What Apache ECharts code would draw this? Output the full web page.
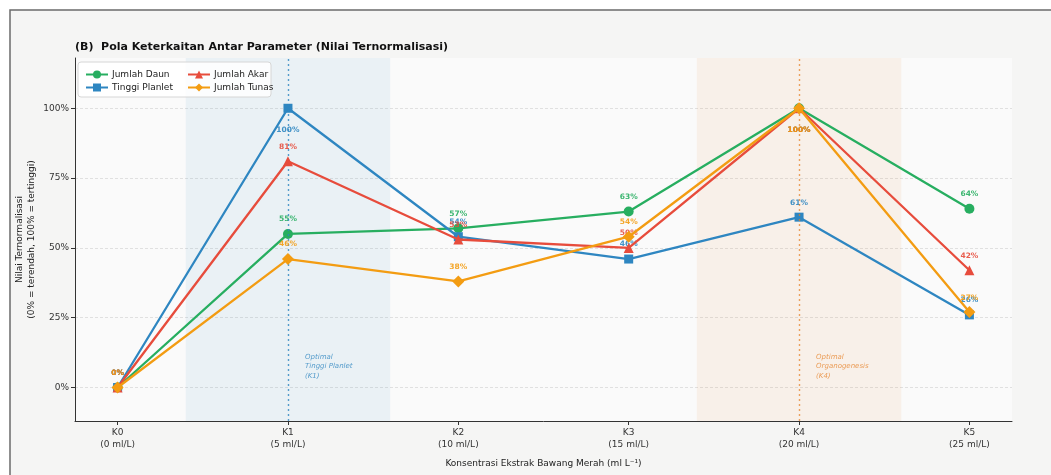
<!DOCTYPE html>
<html>
<head>
<meta charset="utf-8">
<script src="https://cdn.jsdelivr.net/npm/echarts@6/dist/echarts.min.js"></script>
<style>
  html, body { margin: 0; padding: 0; background: #ffffff; }
  #chart { width: 1051px; height: 475px; }
</style>
</head>
<body>
<div id="chart"></div>
<script>
// Treatment levels and their concentrations
const categories = ['K0', 'K1', 'K2', 'K3', 'K4', 'K5'];
const concentrations = ['0 ml/L', '5 ml/L', '10 ml/L', '15 ml/L', '20 ml/L', '25 ml/L'];

// Normalised parameter values (%)
const jumlahDaun    = [0, 55, 57, 63, 100, 64];
const tinggiPlanlet = [0, 100, 54, 46, 61, 26];
const jumlahAkar    = [0, 81, 53, 50, 100, 42];
const jumlahTunas   = [0, 46, 38, 54, 100, 27];

// Axis ticks
const xTicks = [0, 1, 2, 3, 4, 5];
const yTicks = [0, 25, 50, 75, 100];

// Highlighted optimum treatments (index into categories)
const optimumTinggi = 1;
const optimumOrgano = 4;

const FONT = 'DejaVu Sans';
const C_GREEN = '#27ae60';
const C_BLUE = '#2e86c1';
const C_RED = '#e74c3c';
const C_ORANGE = '#f39c12';

// Value labels sit above each point; a 100% peak gets its label underneath.
function lineSeries(name, values, color, symbol, size, z) {
  const above = 10.5 - size / 2;
  const below = 17.5 - size / 2;
  return {
    name: name,
    type: 'line',
    z: z,
    symbol: symbol,
    symbolSize: size,
    showAllSymbol: true,
    lineStyle: { width: 2.3, color: color },
    itemStyle: { color: color },
    emphasis: { disabled: true },
    data: values.map(function (v, i) {
      const peak = v >= 100;
      return {
        value: [i, v],
        label: { position: peak ? 'bottom' : 'top', distance: peak ? below : above }
      };
    }),
    label: {
      show: true,
      formatter: function (p) { return p.value[1] + '%'; },
      color: color,
      fontFamily: FONT,
      fontSize: 7.5,
      fontWeight: 'bold',
      opacity: 0.9
    },
    labelLayout: { hideOverlap: false }
  };
}

const chart = echarts.init(document.getElementById('chart'), null, { renderer: 'canvas' });

const option = {
  backgroundColor: '#ffffff',
  animation: false,
  textStyle: { fontFamily: FONT },
  graphic: [
    {
      type: 'rect', z: -100, silent: true,
      shape: { x: 10, y: 10, width: 1080, height: 500 },
      style: { fill: '#f5f5f4', stroke: '#6b6b6b', lineWidth: 1.5 }
    },
    {
      type: 'rect', z: 5, silent: true,
      shape: { x: 78, y: 62, width: 193, height: 35, r: 3 },
      style: { fill: 'rgba(255,255,255,0.85)', stroke: '#d6d6d6', lineWidth: 1 }
    }
  ],
  title: {
    text: '(B)  Pola Keterkaitan Antar Parameter (Nilai Ternormalisasi)',
    left: 70,
    top: 37,
    textStyle: { fontFamily: FONT, fontSize: 11, fontWeight: 'bold', color: '#111' }
  },
  legend: [
    {
      orient: 'vertical', left: 80, top: 65, z: 10,
      itemWidth: 22, itemHeight: 10, itemGap: 4,
      data: ['Jumlah Daun', 'Tinggi Planlet'],
      textStyle: { fontFamily: FONT, fontSize: 9, color: '#222', padding: [0, 0, 0, -1] }
    },
    {
      orient: 'vertical', left: 182, top: 65, z: 10,
      itemWidth: 22, itemHeight: 10, itemGap: 4,
      data: ['Jumlah Akar', 'Jumlah Tunas'],
      textStyle: { fontFamily: FONT, fontSize: 9, color: '#222', padding: [0, 0, 0, -1] }
    }
  ],
  grid: {
    left: 75, right: 39, top: 58, bottom: 54,
    show: true, backgroundColor: '#fafafa', borderWidth: 0
  },
  xAxis: {
    type: 'value',
    min: -0.25,
    max: 5.25,
    name: 'Konsentrasi Ekstrak Bawang Merah (ml L\u207B\u00B9)',
    nameLocation: 'middle',
    nameGap: 38,
    nameMoveOverlap: false,
    nameTextStyle: { fontFamily: FONT, fontSize: 9, color: '#222' },
    axisLine: { show: true, onZero: false, lineStyle: { color: '#333', width: 1 } },
    axisTick: { show: true, customValues: xTicks, length: 4, lineStyle: { color: '#333' } },
    axisLabel: {
      customValues: xTicks,
      formatter: function (v) { return categories[v] + '\n(' + concentrations[v] + ')'; },
      fontFamily: FONT, fontSize: 9, lineHeight: 12, color: '#333', margin: 6
    },
    splitLine: { show: false }
  },
  yAxis: {
    type: 'value',
    min: -12,
    max: 118,
    name: 'Nilai Ternormalisasi\n(0% = terendah, 100% = tertinggi)',
    nameLocation: 'middle',
    nameGap: 37,
    nameMoveOverlap: false,
    nameTextStyle: { fontFamily: FONT, fontSize: 9, lineHeight: 12, color: '#222' },
    axisLine: { show: true, onZero: false, lineStyle: { color: '#333', width: 1 } },
    axisTick: { show: true, customValues: yTicks, length: 4, lineStyle: { color: '#333' } },
    axisLabel: {
      customValues: yTicks,
      formatter: '{value}%',
      fontFamily: FONT, fontSize: 9, color: '#333', margin: 6
    },
    splitLine: { show: true, lineStyle: { color: '#d9d9d9', type: [3, 2], width: 0.8 } }
  },
  series: [
    {
      // optimum bands, reference lines and notes
      name: 'optimum',
      type: 'line',
      data: [],
      z: 1,
      markArea: {
        silent: true,
        data: [
          [{ xAxis: optimumTinggi - 0.6, itemStyle: { color: 'rgba(46,134,193,0.08)' } }, { xAxis: optimumTinggi + 0.6 }],
          [{ xAxis: optimumOrgano - 0.6, itemStyle: { color: 'rgba(230,126,34,0.08)' } }, { xAxis: optimumOrgano + 0.6 }]
        ]
      },
      markLine: {
        silent: true,
        symbol: 'none',
        label: { show: false },
        data: [
          { xAxis: optimumTinggi, lineStyle: { color: C_BLUE, type: [2, 3], width: 1.4, opacity: 0.8 } },
          { xAxis: optimumOrgano, lineStyle: { color: '#e67e22', type: [2, 3], width: 1.4, opacity: 0.7 } }
        ]
      },
      markPoint: {
        silent: true,
        symbolSize: 0,
        data: [
          {
            coord: [optimumTinggi + 0.1, 7.5],
            label: {
              show: true, position: 'inside', align: 'left',
              formatter: 'Optimal\nTinggi Planlet\n(K' + optimumTinggi + ')',
              fontFamily: FONT, fontSize: 7, lineHeight: 9.5, fontStyle: 'italic',
              color: 'rgba(46,134,193,0.8)'
            }
          },
          {
            coord: [optimumOrgano + 0.1, 7.5],
            label: {
              show: true, position: 'inside', align: 'left',
              formatter: 'Optimal\nOrganogenesis\n(K' + optimumOrgano + ')',
              fontFamily: FONT, fontSize: 7, lineHeight: 9.5, fontStyle: 'italic',
              color: 'rgba(230,126,34,0.75)'
            }
          }
        ]
      }
    },
    lineSeries('Jumlah Daun', jumlahDaun, C_GREEN, 'circle', 10, 3),
    lineSeries('Tinggi Planlet', tinggiPlanlet, C_BLUE, 'rect', 9, 4),
    lineSeries('Jumlah Akar', jumlahAkar, C_RED, 'triangle', 10, 5),
    lineSeries('Jumlah Tunas', jumlahTunas, C_ORANGE, 'diamond', 12, 6)
  ]
};

chart.setOption(option);
</script>
</body>
</html>
